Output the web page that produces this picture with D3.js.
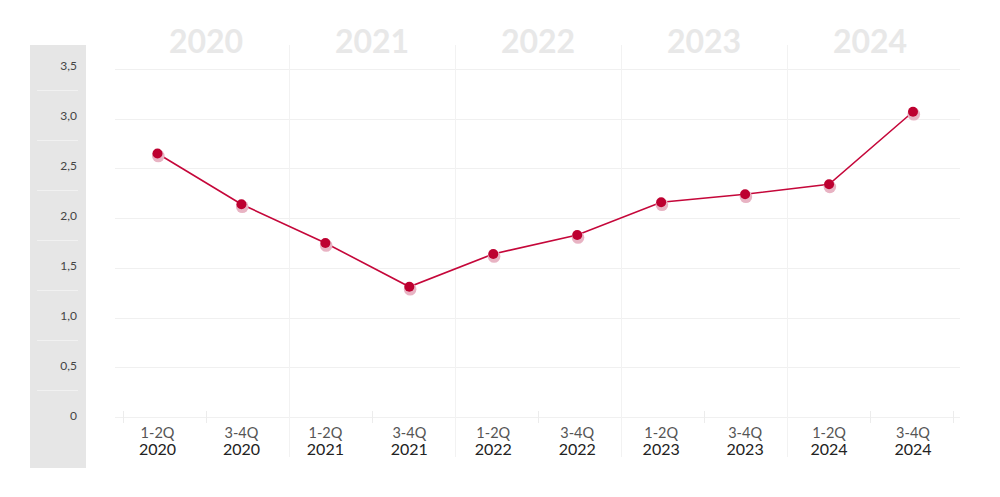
<!DOCTYPE html>
<html>
<head>
<meta charset="utf-8">
<script src="https://cdn.jsdelivr.net/npm/d3@7"></script>
<style>
  html, body { margin: 0; padding: 0; background: #fff; }
  svg { display: block; font-family: Lato, "Open Sans", sans-serif; }
</style>
</head>
<body>
<svg id="chart" width="1000" height="497"></svg>
<script>
const periods = ["1-2Q", "3-4Q", "1-2Q", "3-4Q", "1-2Q", "3-4Q", "1-2Q", "3-4Q", "1-2Q", "3-4Q"];
const periodYears = ["2020", "2020", "2021", "2021", "2022", "2022", "2023", "2023", "2024", "2024"];
const values = [2.65, 2.14, 1.75, 1.31, 1.64, 1.83, 2.16, 2.24, 2.34, 3.07];
const years = ["2020", "2021", "2022", "2023", "2024"];
const yTicks = [0, 0.5, 1.0, 1.5, 2.0, 2.5, 3.0, 3.5];

const svg = d3.select("#chart");
const keys = periods.map((p, i) => i);

const y = d3.scaleLinear().domain([0, 3.5]).range([417, 69]);
const yLabel = d3.scaleLinear().domain([0, 3.5]).range([420, 70]);
const xPoint = d3.scalePoint().domain(keys).range([157.5, 913]);
const xBand = d3.scaleBand().domain(keys).range([123, 953]).paddingInner(0).paddingOuter(0);

// grey y-axis panel
svg.append("rect").attr("x", 30).attr("y", 45).attr("width", 56).attr("height", 423).attr("fill", "#e6e6e6");

// white separators in the panel
svg.append("g").selectAll("line").data(yTicks.filter(d => d > 0)).join("line")
  .attr("x1", 37).attr("x2", 78)
  .attr("y1", d => Math.round(yLabel(d)) + 20.5).attr("y2", d => Math.round(yLabel(d)) + 20.5)
  .attr("stroke", "#f1f1f1").attr("stroke-width", 1);

// y labels
const fmt = d => d === 0 ? "0" : d3.format(".1f")(d).replace(".", ",");
svg.append("g").selectAll("text").data(yTicks).join("text")
  .attr("x", 77).attr("y", d => yLabel(d))
  .attr("text-anchor", "end")
  .attr("font-size", 12).attr("fill", "#444")
  .text(fmt);

// horizontal grid lines
svg.append("g").selectAll("line").data(yTicks).join("line")
  .attr("x1", 115).attr("x2", 960)
  .attr("y1", d => Math.round(y(d)) + 0.5).attr("y2", d => Math.round(y(d)) + 0.5)
  .attr("stroke", "#f0f0f0").attr("stroke-width", 1);

// year separators (boundaries between years)
const yearBounds = years.slice(1).map(yr => periodYears.indexOf(yr));
svg.append("g").selectAll("line").data(yearBounds).join("line")
  .attr("x1", d => Math.round(xBand(d)) + 0.5).attr("x2", d => Math.round(xBand(d)) + 0.5)
  .attr("y1", 45).attr("y2", 457)
  .attr("stroke", "#f2f2f2").attr("stroke-width", 1);

// small axis ticks at other band edges
const tickEdges = keys.filter(k => !yearBounds.includes(k)).map(k => xBand(k)).concat([xBand.range()[1]]);
svg.append("g").selectAll("line").data(tickEdges).join("line")
  .attr("x1", d => Math.round(d) + 0.5).attr("x2", d => Math.round(d) + 0.5)
  .attr("y1", 411).attr("y2", 423)
  .attr("stroke", "#ececec").attr("stroke-width", 1);

// year headers
svg.append("g").selectAll("text").data(years).join("text")
  .attr("x", yr => {
    const idx = keys.filter(k => periodYears[k] === yr);
    return xBand(idx[0]) + (xBand(idx[idx.length - 1]) + xBand.bandwidth() - xBand(idx[0])) / 2;
  })
  .attr("y", 53)
  .attr("text-anchor", "middle")
  .attr("font-size", 32).attr("font-weight", 700).attr("fill", "#e8e8e8")
  .text(d => d);

// x labels
const xl = svg.append("g").selectAll("g").data(keys).join("g")
  .attr("transform", k => `translate(${xPoint(k)},0)`);
xl.append("text").attr("y", 438).attr("text-anchor", "middle")
  .attr("font-size", 14.5).attr("fill", "#555").text(k => periods[k]);
xl.append("text").attr("y", 455).attr("text-anchor", "middle")
  .attr("font-size", 16).attr("fill", "#222").text(k => periodYears[k]);

// line
const line = d3.line().x((d, i) => xPoint(i)).y(d => y(d));
svg.append("path").datum(values)
  .attr("d", line).attr("fill", "none")
  .attr("stroke", "#c5073a").attr("stroke-width", 1.6);

// point shadows
svg.append("g").selectAll("circle").data(values).join("circle")
  .attr("cx", (d, i) => xPoint(i) + 0.8).attr("cy", d => y(d) + 2.5)
  .attr("r", 6.3).attr("fill", "#e8b3c3");

// points
svg.append("g").selectAll("circle").data(values).join("circle")
  .attr("cx", (d, i) => xPoint(i)).attr("cy", d => y(d))
  .attr("r", 5).attr("fill", "#bd0030");
</script>
</body>
</html>
